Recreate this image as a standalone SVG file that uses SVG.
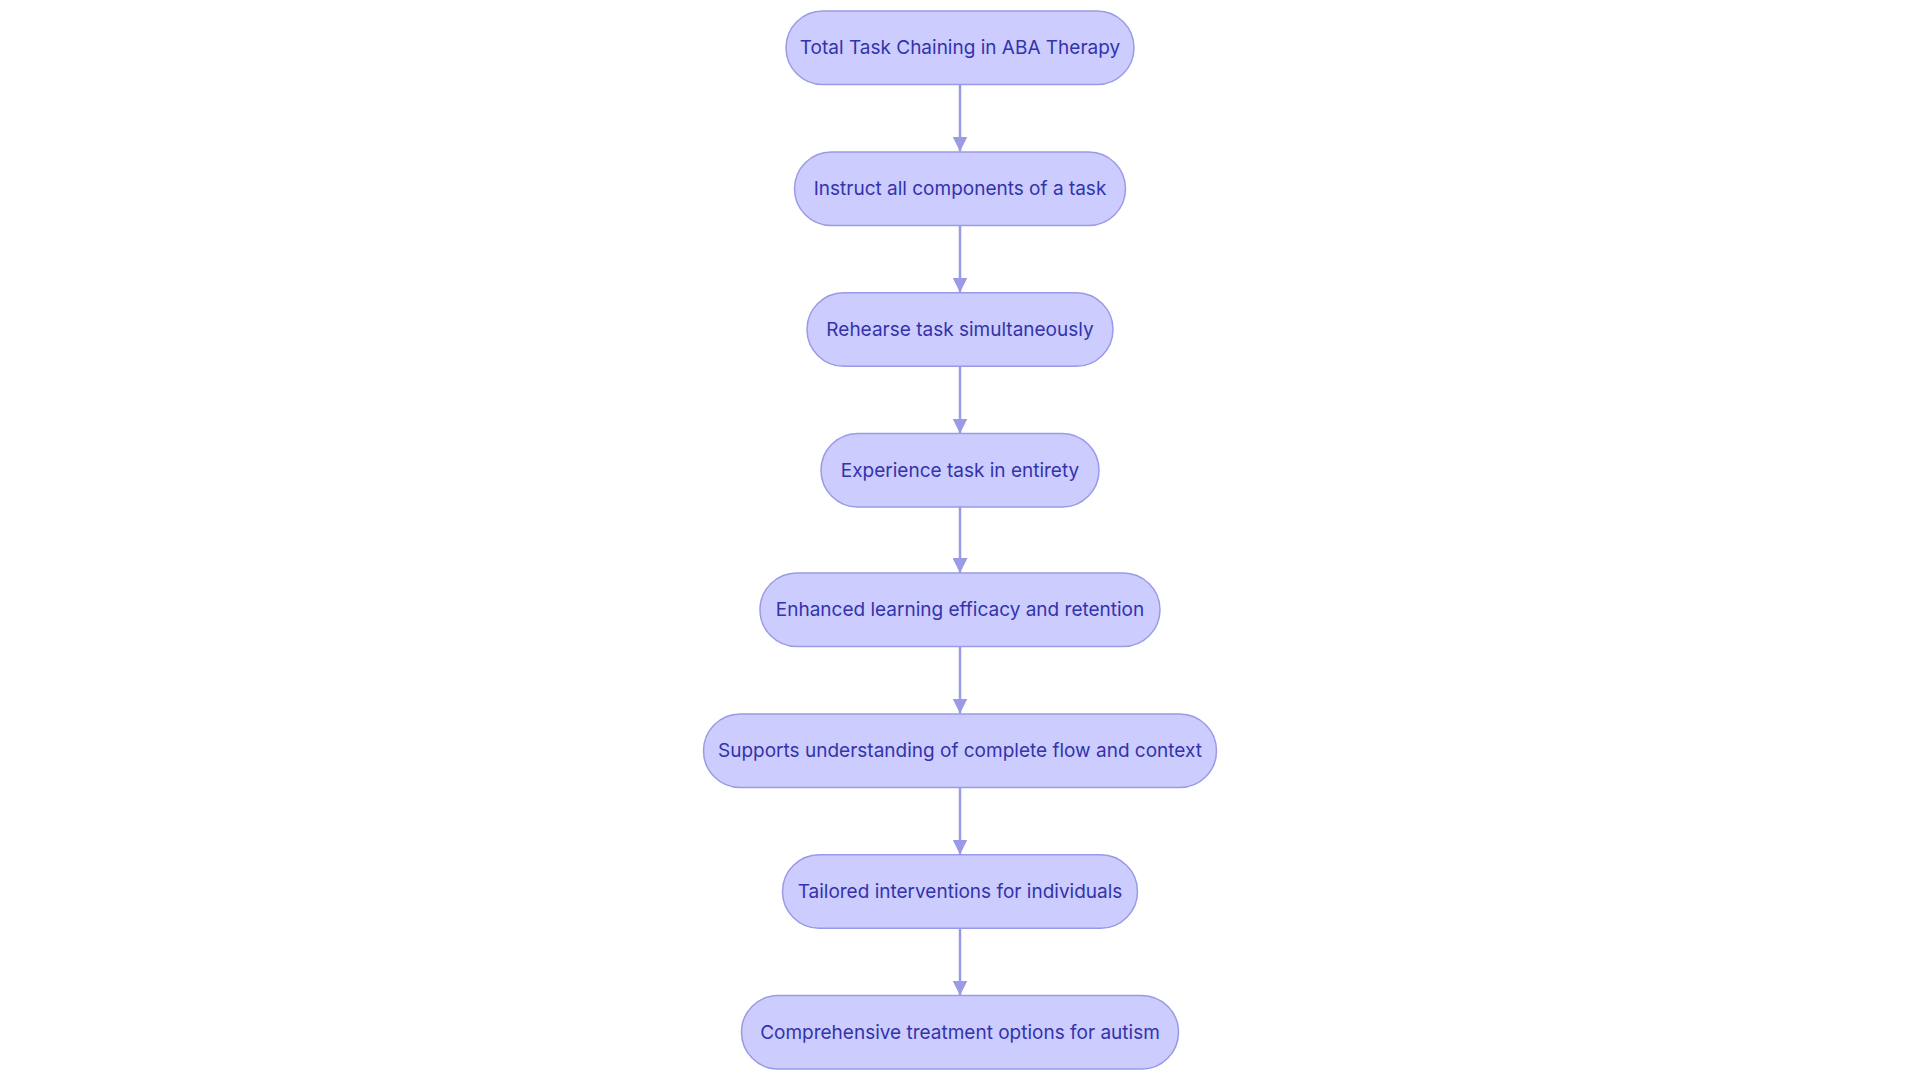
<svg xmlns="http://www.w3.org/2000/svg" width="1920" height="1080" viewBox="0 0 1920 1080">
<style>
.n rect{fill:#ccccff;stroke:#9a9ae6;stroke-width:1.5}
.n text{font-family:"Inter","Liberation Sans",sans-serif;font-size:19px;fill:#3333aa;text-anchor:middle;dominant-baseline:central}
.c line{stroke:#9a9ae6;stroke-width:2.5}
</style>
<defs><marker id="a" viewBox="0 0 10 10" refX="10" refY="5" markerWidth="6" markerHeight="6" markerUnits="strokeWidth" orient="auto"><path d="M0,0L10,5L0,10z" fill="#9a9ae6"/></marker></defs>
<rect width="1920" height="1080" fill="#fff"/>
<g class="c">
<line x1="960" y1="84.5" x2="960" y2="151.5" marker-end="url(#a)"/>
<line x1="960" y1="225.5" x2="960" y2="292.5" marker-end="url(#a)"/>
<line x1="960" y1="366" x2="960" y2="433.5" marker-end="url(#a)"/>
<line x1="960" y1="507" x2="960" y2="573" marker-end="url(#a)"/>
<line x1="960" y1="646.5" x2="960" y2="713.5" marker-end="url(#a)"/>
<line x1="960" y1="787.5" x2="960" y2="854.5" marker-end="url(#a)"/>
<line x1="960" y1="928" x2="960" y2="995.5" marker-end="url(#a)"/>
</g>
<g id="n1" class="n"><rect x="786" y="11" width="348" height="73.5" rx="36.75"/><text x="960" y="47.8">Total Task Chaining in ABA Therapy</text></g>
<g id="n2" class="n"><rect x="794.5" y="152" width="331" height="73.5" rx="36.75"/><text x="960" y="188.6">Instruct all components of a task</text></g>
<g id="n3" class="n"><rect x="807" y="292.7" width="306" height="73.5" rx="36.75"/><text x="960" y="329.4">Rehearse task simultaneously</text></g>
<g id="n4" class="n"><rect x="821" y="433.5" width="278" height="73.5" rx="36.75"/><text x="960" y="470.2">Experience task in entirety</text></g>
<g id="n5" class="n"><rect x="760" y="573" width="400" height="73.5" rx="36.75"/><text x="960" y="609.8">Enhanced learning efficacy and retention</text></g>
<g id="n6" class="n"><rect x="703.5" y="714" width="513" height="73.5" rx="36.75"/><text x="960" y="750.6">Supports understanding of complete flow and context</text></g>
<g id="n7" class="n"><rect x="782.5" y="854.7" width="355" height="73.5" rx="36.75"/><text x="960" y="891.4">Tailored interventions for individuals</text></g>
<g id="n8" class="n"><rect x="741.5" y="995.5" width="437" height="73.5" rx="36.75"/><text x="960" y="1032.3">Comprehensive treatment options for autism</text></g>
</svg>
